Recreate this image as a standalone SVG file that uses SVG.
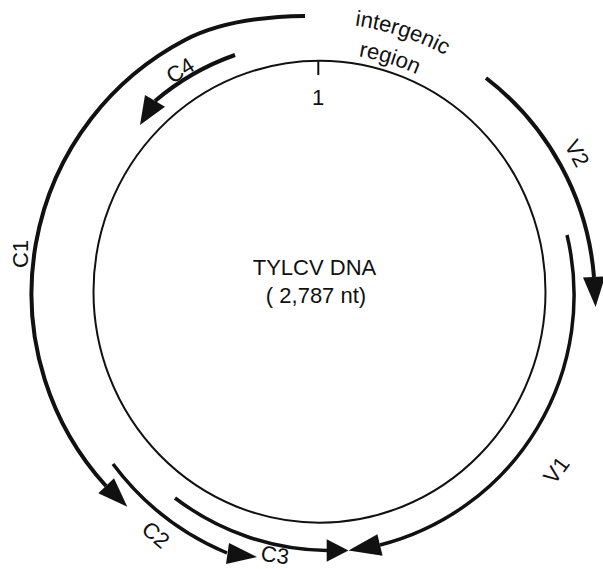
<svg xmlns="http://www.w3.org/2000/svg" xmlns:xlink="http://www.w3.org/1999/xlink" width="603" height="569" viewBox="0 0 603 569">
<style>
text{font-family:"Liberation Sans",Arial,Helvetica,sans-serif;font-size:22px;fill:#111}
.arc{fill:none;stroke:#111;stroke-width:4;stroke-linecap:butt}
.arc2{fill:none;stroke:#111;stroke-width:3.5}
.head{fill:#111;stroke:none}
.dna{fill:none;stroke:#111;stroke-width:2}
</style>
<defs>
<path id="pInter" d="M354.9,25.5 A269,269 0 0,1 550.6,157.4"/>
<path id="pRegion" d="M358.5,56.2 A239,239 0 0,1 524.6,172.4"/>
</defs>
<rect width="603" height="569" fill="#fff"/>
<g id="genome">
<ellipse class="dna" cx="319.5" cy="291.7" rx="226" ry="231"/>
<line x1="318.3" y1="60" x2="318.3" y2="75" stroke="#111" stroke-width="2"/>
<text x="318" y="105" text-anchor="middle">1</text>
<text x="314.5" y="275" text-anchor="middle">TYLCV DNA</text>
<text x="316" y="303" text-anchor="middle">( 2,787 nt)</text>
</g>
<g id="intergenic">
<text><textPath xlink:href="#pInter" href="#pInter">intergenic</textPath></text>
<text><textPath xlink:href="#pRegion" href="#pRegion">region</textPath></text>
</g>
<g id="connectors">
<g id="C1">
<path class="arc" d="M305,16 C265,16.5 220.4,21.4 185,40 A286,286 0 0,0 106,486"/>
<polygon class="head" points="98.3,493.3 114,478.3 127.3,506.7"/>
</g>
<g id="C4">
<path class="arc" d="M235,55 A252,252 0 0,0 155,101"/>
<polygon class="head" points="145,95 165,106.7 140,125"/>
</g>
<g id="V2">
<path class="arc" d="M486,78 A279,279 0 0,1 594,277"/>
<polygon class="head" points="583,277.6 605,276.4 595.6,306.9"/>
</g>
<g id="V1">
<path class="arc2" d="M567,235 A258,258 0 0,1 380,545"/>
<polygon class="head" points="377.4,534.3 382.6,555.7 348.5,550.5"/>
</g>
<g id="C3">
<path class="arc2" d="M175,498 A256,256 0 0,0 327,550.5"/>
<polygon class="head" points="326.7,539.3 326.7,561.7 348.5,550.5"/>
</g>
<g id="C2">
<path class="arc2" d="M113,464 A275,275 0 0,0 227,553"/>
<polygon class="head" points="229,543 226,564 257,557"/>
</g>
</g>
<g id="labels">
<text transform="translate(28,254) rotate(-90)" text-anchor="middle">C1</text>
<text transform="translate(184.2,76.8) rotate(-32)" text-anchor="middle">C4</text>
<text transform="translate(570.4,156.8) rotate(62)" text-anchor="middle">V2</text>
<text transform="translate(562.4,474.8) rotate(-53)" text-anchor="middle">V1</text>
<text transform="translate(150.9,540.6) rotate(40)" text-anchor="middle">C2</text>
<text transform="translate(274,562.5) rotate(8)" text-anchor="middle">C3</text>
</g>
</svg>
